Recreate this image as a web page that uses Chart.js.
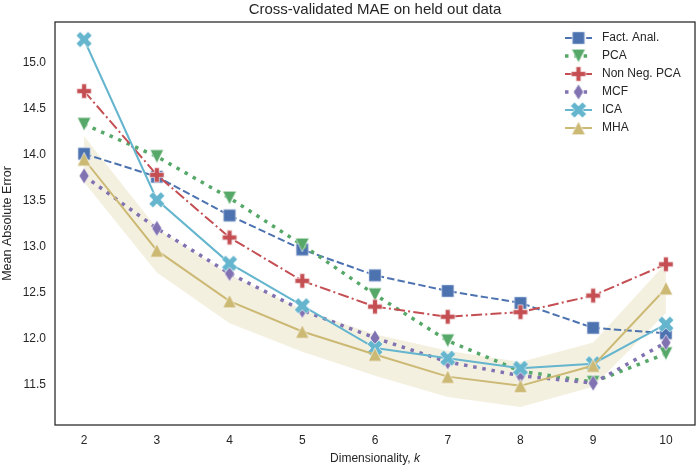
<!DOCTYPE html>
<html>
<head>
<meta charset="utf-8">
<script src="https://cdn.jsdelivr.net/npm/chart.js@4.4.1/dist/chart.umd.min.js"></script>
<style>
  html, body { margin: 0; padding: 0; background: #fff; }
  #wrap { width: 700px; height: 469px; }
</style>
</head>
<body>
<div id="wrap"><canvas id="chart"></canvas></div>
<script>
// values
const dims = [2, 3, 4, 5, 6, 7, 8, 9, 10];
const factAnal = [14.01, 13.76, 13.34, 12.97, 12.69, 12.52, 12.39, 12.12, 12.06];
const pca = [14.33, 13.98, 13.53, 13.02, 12.48, 11.98, 11.65, 11.53, 11.84];
const nonNegPca = [14.69, 13.78, 13.10, 12.63, 12.35, 12.24, 12.29, 12.47, 12.81];
const mcf = [13.77, 13.20, 12.71, 12.31, 12.01, 11.75, 11.60, 11.52, 11.96];
const ica = [15.25, 13.51, 12.82, 12.36, 11.90, 11.79, 11.68, 11.73, 12.16];
const mha = [13.95, 12.96, 12.41, 12.08, 11.83, 11.59, 11.49, 11.71, 12.55];
const mhaUpper = [14.20, 13.20, 12.70, 12.32, 12.05, 11.87, 11.75, 11.96, 12.82];
const mhaLower = [13.70, 12.72, 12.17, 11.86, 11.60, 11.37, 11.26, 11.48, 12.28];
const yTicks = [11.5, 12.0, 12.5, 13.0, 13.5, 14.0, 14.5, 15.0];

const FONT = "'Liberation Sans', Arial, sans-serif";
const TEXT = '#262626';

function marker(color, path) {
  const c = document.createElement('canvas');
  c.width = 20; c.height = 20;
  const g = c.getContext('2d');
  g.translate(10, 10);
  g.beginPath();
  path(g);
  g.closePath();
  g.fillStyle = color;
  g.fill();
  g.strokeStyle = 'rgba(255,255,255,0.8)';
  g.lineWidth = 0.8;
  g.stroke();
  return c;
}

function plusPath(g, r, rot) {
  const t = r / 3;
  const pts = [[-t,-r],[t,-r],[t,-t],[r,-t],[r,t],[t,t],[t,r],[-t,r],[-t,t],[-r,t],[-r,-t],[-t,-t]];
  const a = rot * Math.PI / 180, ca = Math.cos(a), sa = Math.sin(a);
  pts.forEach((p, i) => {
    const x = p[0] * ca - p[1] * sa, y = p[0] * sa + p[1] * ca;
    if (i === 0) g.moveTo(x, y); else g.lineTo(x, y);
  });
}

const mSquare = marker('#4C72B0', g => g.rect(-6.2, -6.2, 12.4, 12.4));
const mTriDown = marker('#55A868', g => { g.moveTo(-6.8, -6.8); g.lineTo(6.8, -6.8); g.lineTo(0, 6.8); });
const mPlus = marker('#C44E52', g => plusPath(g, 7.2, 0));
const mDiamond = marker('#8172B2', g => { g.moveTo(0, -8); g.lineTo(5, 0); g.lineTo(0, 8); g.lineTo(-5, 0); });
const mX = marker('#64B5CD', g => plusPath(g, 8.4, 45));
const mTriUp = marker('#CCB974', g => { g.moveTo(0, -6.8); g.lineTo(6.8, 6.8); g.lineTo(-6.8, 6.8); });

const pts = vals => dims.map((k, i) => ({ x: k, y: vals[i] }));

const series = [
  { label: 'Fact. Anal.', vals: factAnal, color: '#4C72B0', width: 2, dash: [7.4, 3.2], m: mSquare, order: 6 },
  { label: 'PCA', vals: pca, color: '#55A868', width: 3.5, dash: [3.5, 5.8], m: mTriDown, order: 5 },
  { label: 'Non Neg. PCA', vals: nonNegPca, color: '#C44E52', width: 2, dash: [11, 3.2, 2, 3.2], m: mPlus, order: 4 },
  { label: 'MCF', vals: mcf, color: '#8172B2', width: 3.5, dash: [3.5, 5.8], m: mDiamond, order: 3 },
  { label: 'ICA', vals: ica, color: '#64B5CD', width: 2, dash: [], m: mX, order: 2 },
  { label: 'MHA', vals: mha, color: '#CCB974', width: 2, dash: [], m: mTriUp, order: 1 }
];

const datasets = series.map(s => ({
  label: s.label,
  data: pts(s.vals),
  borderColor: s.color,
  borderWidth: s.width,
  borderDash: s.dash,
  borderCapStyle: 'butt',
  pointStyle: s.m,
  pointRadius: 6,
  fill: false,
  tension: 0,
  order: s.order
}));
datasets.push({
  label: 'band upper', data: pts(mhaUpper), borderColor: 'transparent', pointRadius: 0,
  backgroundColor: 'rgba(204,185,116,0.22)', fill: '+1', order: 10
});
datasets.push({
  label: 'band lower', data: pts(mhaLower), borderColor: 'transparent', pointRadius: 0,
  fill: false, order: 11
});

const decor = {
  id: 'decor',
  afterDraw(chart) {
    const ctx = chart.ctx, a = chart.chartArea;
    const cx = (a.left + a.right) / 2;
    ctx.save();
    // frame
    ctx.strokeStyle = '#262626';
    ctx.lineWidth = 1.25;
    ctx.strokeRect(a.left, a.top, a.right - a.left, a.bottom - a.top);
    // title
    ctx.fillStyle = TEXT;
    ctx.textAlign = 'center';
    ctx.textBaseline = 'middle';
    ctx.font = '15px ' + FONT;
    ctx.fillText('Cross-validated MAE on held out data', cx, 10);
    // x label with italic k
    ctx.font = '12px ' + FONT;
    const p1 = 'Dimensionality, ';
    const w1 = ctx.measureText(p1).width;
    ctx.font = 'italic 12px ' + FONT;
    const w2 = ctx.measureText('k').width;
    let x0 = cx - (w1 + w2) / 2;
    ctx.textAlign = 'left';
    ctx.font = '12px ' + FONT;
    ctx.fillText(p1, x0, 459);
    ctx.font = 'italic 12px ' + FONT;
    ctx.fillText('k', x0 + w1, 459);
    // legend
    ctx.font = '12px ' + FONT;
    series.forEach((s, i) => {
      const y = 38 + i * 18;
      ctx.strokeStyle = s.color;
      ctx.lineWidth = s.width;
      ctx.setLineDash(s.dash);
      ctx.lineCap = 'butt';
      ctx.beginPath();
      ctx.moveTo(565, y);
      ctx.lineTo(592, y);
      ctx.stroke();
      ctx.setLineDash([]);
      ctx.drawImage(s.m, 578.5 - 10, y - 10);
      ctx.fillStyle = TEXT;
      ctx.fillText(s.label, 602, y);
    });
    ctx.restore();
  }
};

Chart.defaults.font.family = FONT;
Chart.defaults.font.size = 12;
Chart.defaults.color = TEXT;

new Chart(document.getElementById('chart'), {
  type: 'line',
  data: { datasets },
  options: {
    responsive: true,
    maintainAspectRatio: false,
    animation: false,
    devicePixelRatio: 1,
    layout: { autoPadding: false, padding: { top: 22, right: 5, left: 0, bottom: 0 } },
    plugins: { legend: { display: false }, tooltip: { enabled: false }, title: { display: false } },
    scales: {
      x: {
        type: 'linear',
        min: 1.6,
        max: 10.4,
        grid: { display: false, drawTicks: false, tickLength: 0 },
        border: { display: false },
        afterBuildTicks: s => { s.ticks = dims.map(v => ({ value: v })); },
        afterFit: s => { s.height = 44; s.paddingLeft = 0; s.paddingRight = 0; },
        ticks: { padding: 8, color: TEXT, font: { size: 12 }, callback: v => String(v) }
      },
      y: {
        min: 11.065,
        max: 15.44,
        grid: { display: false, drawTicks: false, tickLength: 0 },
        border: { display: false },
        afterBuildTicks: s => { s.ticks = yTicks.map(v => ({ value: v })); },
        afterFit: s => { s.width = 55; s.paddingTop = 0; s.paddingBottom = 0; },
        title: { display: true, text: 'Mean Absolute Error', color: TEXT, font: { size: 12.5 }, padding: { top: 0, bottom: 0 } },
        ticks: { padding: 9, color: TEXT, font: { size: 12 }, callback: v => v.toFixed(1) }
      }
    }
  },
  plugins: [decor]
});
</script>
</body>
</html>
